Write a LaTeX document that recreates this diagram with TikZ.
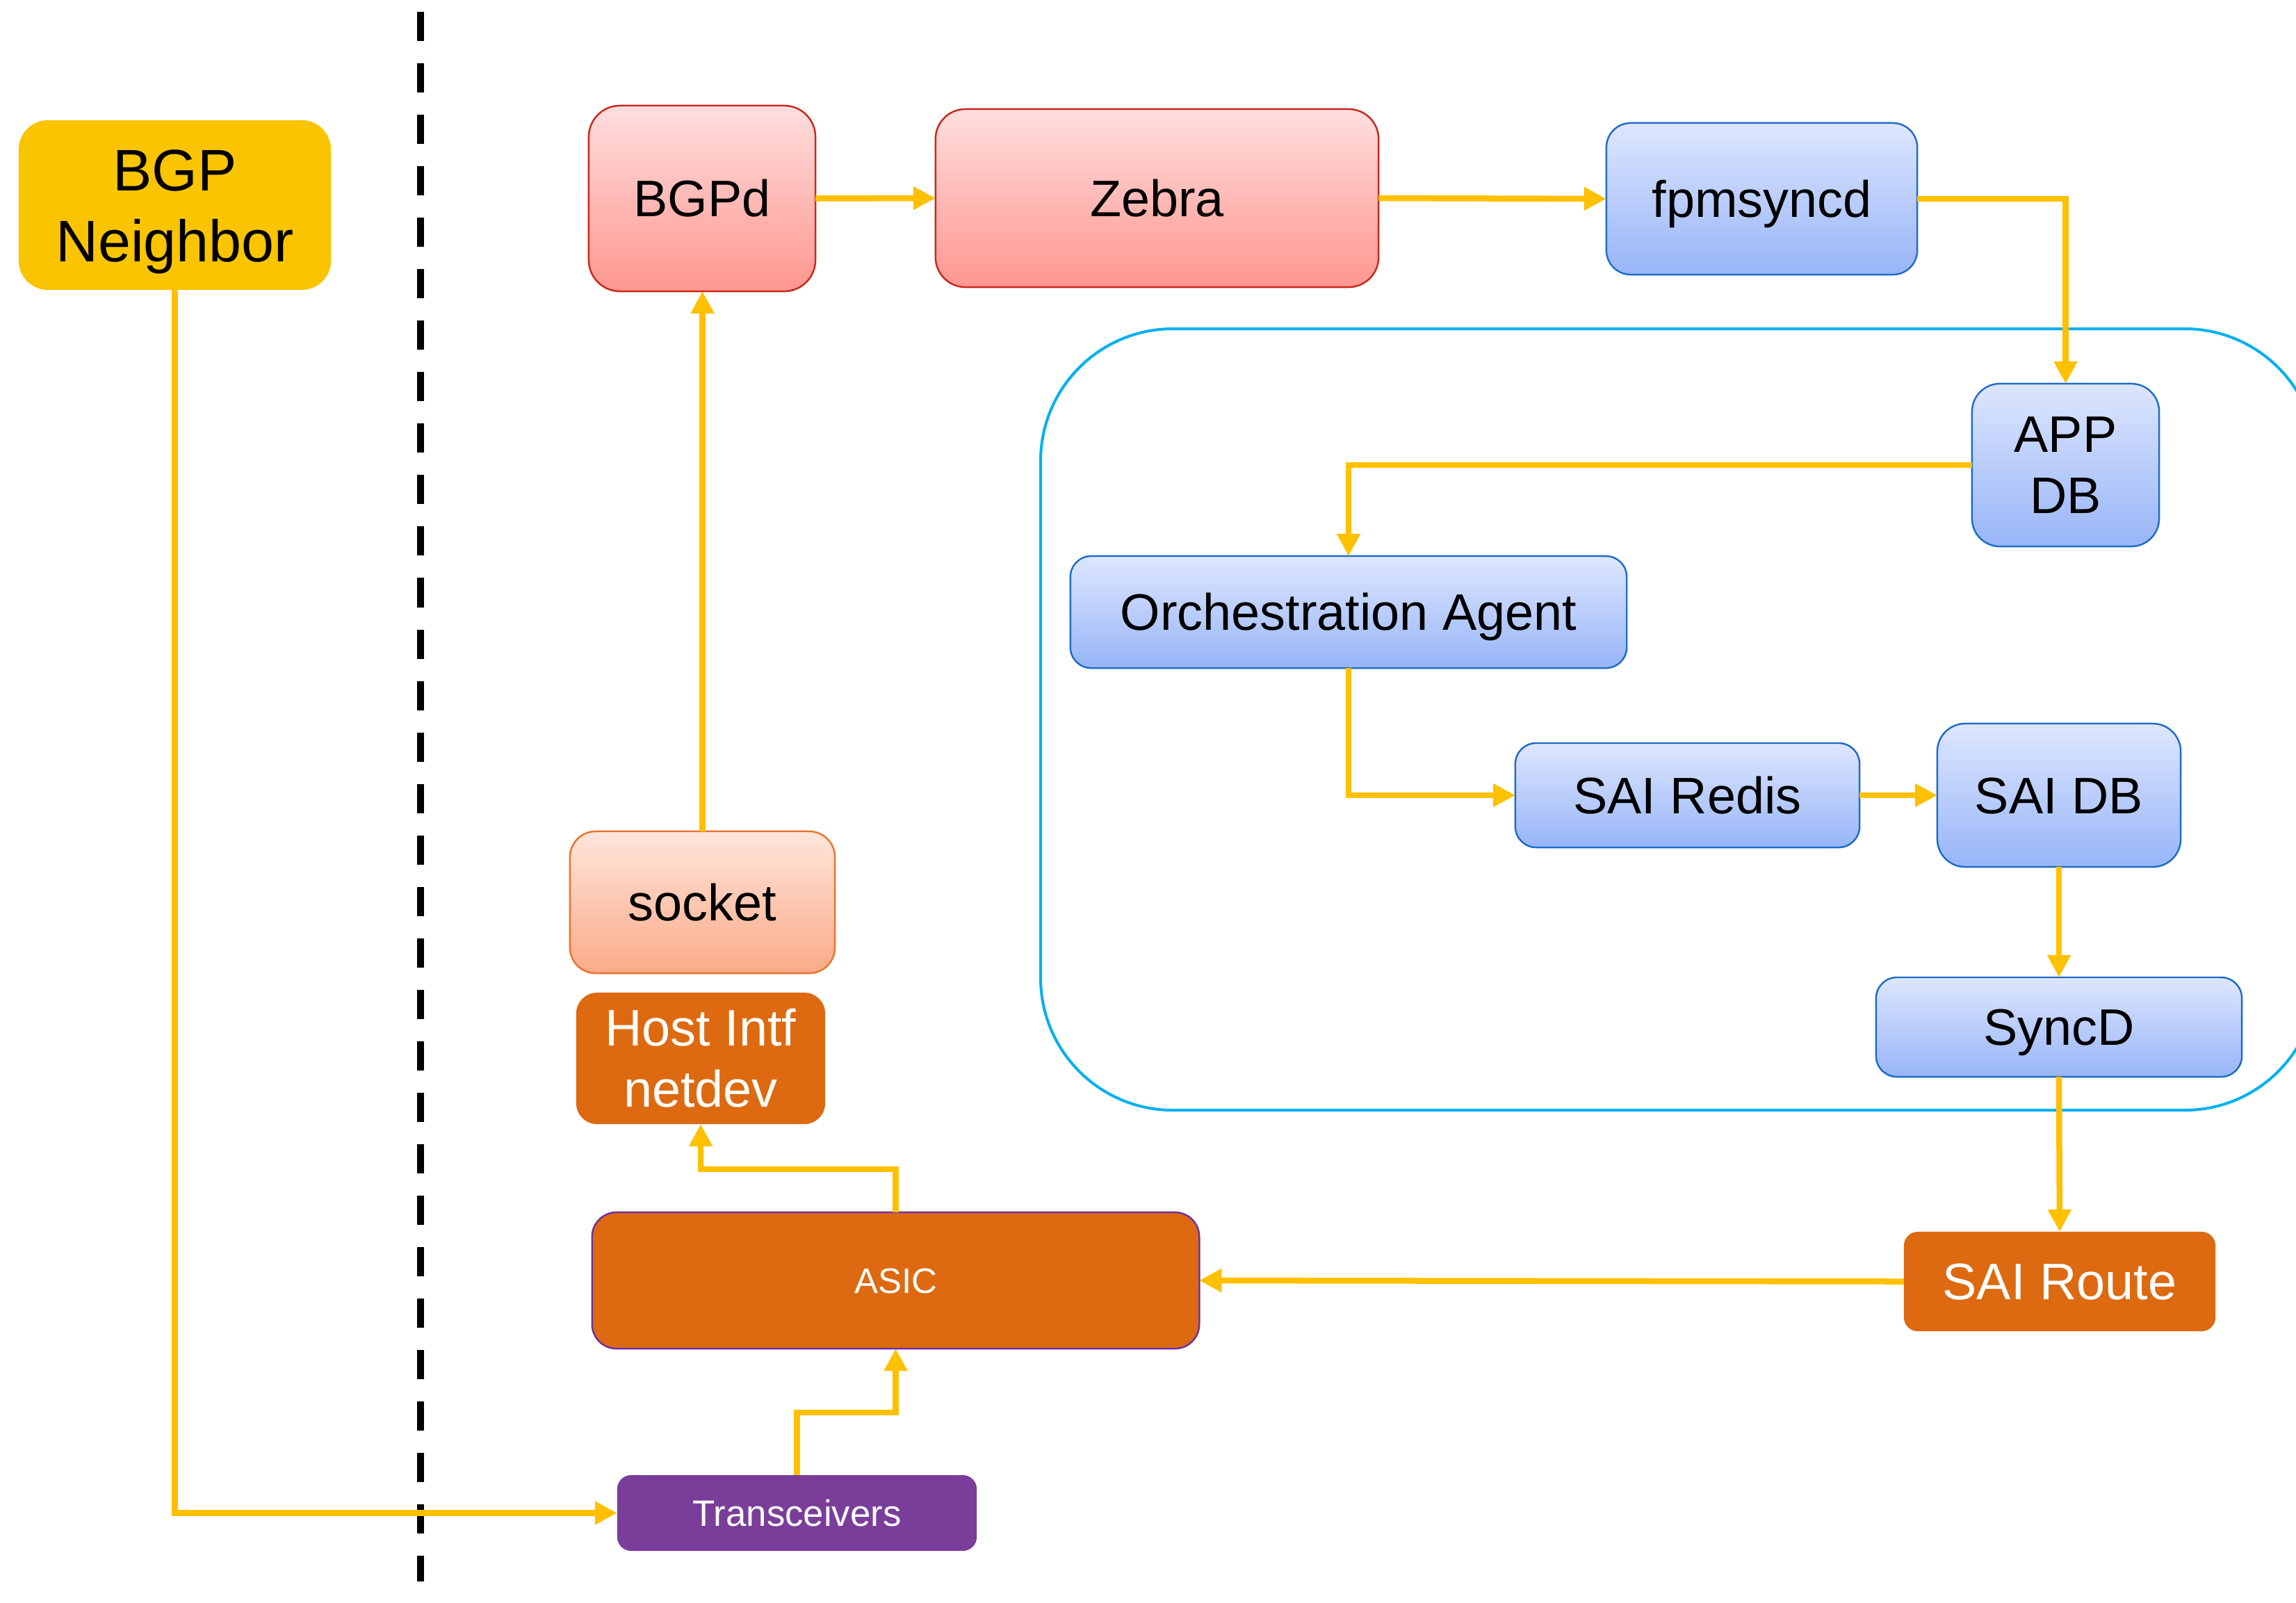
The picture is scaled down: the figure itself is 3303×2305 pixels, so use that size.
\documentclass[tikz,border=0pt]{standalone}
\usepackage{fontspec}
\setmainfont{Liberation Sans}
\usetikzlibrary{arrows.meta}
\definecolor{lineyel}{HTML}{FFC000}
\definecolor{nbrgold}{HTML}{FAC400}
\definecolor{orng}{HTML}{DD6A10}
\definecolor{purp}{HTML}{7A3E9A}
\definecolor{asicborder}{HTML}{7030A0}
\definecolor{redtop}{HTML}{FFDEDE}
\definecolor{redbot}{HTML}{FF968F}
\definecolor{redline}{HTML}{C8281A}
\definecolor{socktop}{HTML}{FFE5DB}
\definecolor{sockbot}{HTML}{FBAA88}
\definecolor{sockline}{HTML}{E8742E}
\definecolor{bluetop}{HTML}{DDE6FE}
\definecolor{bluebot}{HTML}{98B5F8}
\definecolor{blueline}{HTML}{1F6CC8}
\definecolor{cyanline}{HTML}{00B0F0}
\newcommand{\fsz}[2]{\fontsize{#1pt}{#2pt}\selectfont}
\tikzset{
  box/.style={inner sep=0pt, outer sep=0pt, align=center, line width=0.7pt, font=\fsz{21}{25}},
  oneline/.style={text height=15pt, text depth=0pt},
  redbox/.style={box, draw=redline, top color=redtop, bottom color=redbot},
  bluebox/.style={box, draw=blueline, top color=bluetop, bottom color=bluebot},
  orangebox/.style={box, fill=orng, text=white},
  arr/.style={draw=lineyel, line width=0.085cm, -{Triangle[length=0.32cm,width=0.32cm]}}
}
\begin{document}
\begin{tikzpicture}[x=0.01cm, y=-0.01cm]
\useasboundingbox[fill=white] (0,0) rectangle (3303,2305);
% container
\begin{scope}
\clip (0,0) rectangle (3303,2305);
\draw[cyanline, line width=0.04cm, rounded corners=1.9cm] (1497,473) rectangle (3333,1597);
\end{scope}
% dashed separator
\draw[black, line width=0.1cm, dash pattern=on 0.42cm off 0.32cm] (605,17) -- (605,2275);
% nodes
\node[box, fill=nbrgold, rounded corners=0.42cm, minimum width=4.49cm, minimum height=2.44cm, font=\fsz{24}{29}, text height=46.2pt, text depth=0pt] (bgpn) at (251.5,295) {BGP\\Neighbor};
\node[redbox, oneline, rounded corners=0.45cm, minimum width=3.26cm, minimum height=2.67cm] (bgpd) at (1010,285.5) {BGPd};
\node[redbox, oneline, rounded corners=0.43cm, minimum width=6.37cm, minimum height=2.56cm] (zebra) at (1664.5,285) {Zebra};
\node[bluebox, oneline, rounded corners=0.35cm, minimum width=4.47cm, minimum height=2.18cm] (fpm) at (2534.5,286) {fpmsyncd};
\node[bluebox, rounded corners=0.40cm, minimum width=2.69cm, minimum height=2.34cm] (appdb) at (2971.5,669) {APP\\DB};
\node[bluebox, oneline, rounded corners=0.30cm, minimum width=8.00cm, minimum height=1.61cm] (orch) at (1940,880.5) {Orchestration Agent};
\node[bluebox, oneline, rounded corners=0.30cm, minimum width=4.95cm, minimum height=1.50cm] (sairedis) at (2427.5,1144) {SAI Redis};
\node[bluebox, oneline, rounded corners=0.40cm, minimum width=3.50cm, minimum height=2.06cm] (saidb) at (2962,1144) {SAI DB};
\node[bluebox, oneline, rounded corners=0.30cm, minimum width=5.26cm, minimum height=1.43cm] (syncd) at (2962,1477.5) {SyncD};
\node[orangebox, oneline, rounded corners=0.20cm, minimum width=4.48cm, minimum height=1.43cm] (sairoute) at (2963,1843.5) {SAI Route};
\node[box, oneline, draw=sockline, top color=socktop, bottom color=sockbot, rounded corners=0.37cm, minimum width=3.81cm, minimum height=2.04cm] (socket) at (1010.5,1298) {socket};
\node[orangebox, rounded corners=0.30cm, minimum width=3.58cm, minimum height=1.89cm] (hostintf) at (1008,1522.5) {Host Intf\\netdev};
\node[orangebox, draw=asicborder, rounded corners=0.35cm, minimum width=8.73cm, minimum height=1.96cm, font=\fsz{14.5}{17}, text height=10.4pt, text depth=0pt] (asic) at (1288.5,1842) {ASIC};
\node[box, fill=purp, text=white, rounded corners=0.20cm, minimum width=5.17cm, minimum height=1.09cm, font=\fsz{15}{18}, text height=10.7pt, text depth=0pt] (trans) at (1146.5,2176.5) {Transceivers};
% bend points
\coordinate (k1) at (1288.5,2032);
\coordinate (k2) at (1288.5,1682);
% connectors
\draw[arr] (bgpn.south) |- (trans.west);
\draw[arr] (trans.north) |- (k1) -- (asic.south);
\draw[arr] (asic.north) -- (k2) -| (hostintf.south);
\draw[arr] (socket.north) -- (socket.north |- bgpd.south);
\draw[arr] (bgpd.east) -- (zebra.west);
\draw[arr] (zebra.east) -- (fpm.west);
\draw[arr] (fpm.east) -| (appdb.north);
\draw[arr] (appdb.west) -| (orch.north);
\draw[arr] (orch.south) |- (sairedis.west);
\draw[arr] (sairedis.east) -- (saidb.west);
\draw[arr] (saidb.south) -- (syncd.north);
\draw[arr] (syncd.south) -- (sairoute.north);
\draw[arr] (sairoute.west) -- (asic.east);
\end{tikzpicture}
\end{document}
